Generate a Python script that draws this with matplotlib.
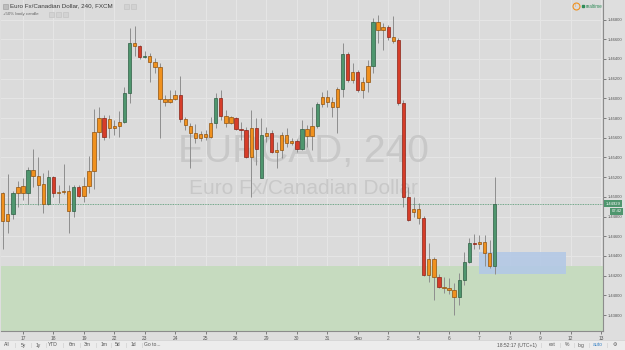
import matplotlib
matplotlib.use("Agg")
import matplotlib.pyplot as plt
import matplotlib.transforms as mtransforms
from matplotlib.patches import Rectangle
from matplotlib.lines import Line2D

plt.rcParams['font.family'] = ['Liberation Sans', 'DejaVu Sans']

# EUR/CAD 4h candles (oldest first)
opens = [1.45039, 1.44755, 1.44826, 1.45039, 1.45110, 1.45039, 1.45273, 1.45212, 1.45130, 1.44927,
         1.45201, 1.45039, 1.45049, 1.45059, 1.44856, 1.45100, 1.45009, 1.45110, 1.45262, 1.45658,
         1.45800, 1.45790, 1.45699, 1.45719, 1.45760, 1.46054, 1.46562, 1.46531, 1.46419, 1.46430,
         1.46369, 1.46318, 1.45993, 1.45963, 1.45993, 1.46034, 1.45790, 1.45719, 1.45648, 1.45597,
         1.45638, 1.45607, 1.45749, 1.46003, 1.45821, 1.45749, 1.45800, 1.45689, 1.45679, 1.45404,
         1.45699, 1.45191, 1.45618, 1.45648, 1.45455, 1.45476, 1.45628, 1.45546, 1.45567, 1.45486,
         1.45689, 1.45618, 1.45719, 1.45942, 1.46013, 1.45963, 1.45912, 1.46095, 1.46450, 1.46186,
         1.46267, 1.46085, 1.46166, 1.46328, 1.46775, 1.46694, 1.46724, 1.46622, 1.46592, 1.45952,
         1.44998, 1.44846, 1.44877, 1.44785, 1.44207, 1.44369, 1.44186, 1.44085, 1.44075, 1.44055,
         1.43983, 1.44156, 1.44339, 1.44531, 1.44521, 1.44542, 1.44430, 1.44298]
highs = [1.45049, 1.45232, 1.45059, 1.45161, 1.45191, 1.45303, 1.45486, 1.45404, 1.45242, 1.45273,
         1.45212, 1.45120, 1.45333, 1.45120, 1.45120, 1.45120, 1.45201, 1.45415, 1.45892, 1.45912,
         1.45831, 1.45831, 1.45780, 1.45871, 1.46115, 1.46714, 1.46734, 1.46541, 1.46480, 1.46460,
         1.46409, 1.46359, 1.46034, 1.46085, 1.46085, 1.46227, 1.45810, 1.45749, 1.45739, 1.45668,
         1.45679, 1.45810, 1.46054, 1.46085, 1.45882, 1.45821, 1.45810, 1.45760, 1.45709, 1.45882,
         1.45800, 1.45800, 1.45709, 1.45679, 1.45557, 1.45658, 1.45699, 1.45597, 1.45587, 1.45780,
         1.45729, 1.45912, 1.45963, 1.46064, 1.46085, 1.46013, 1.46115, 1.46562, 1.46470, 1.46359,
         1.46288, 1.46216, 1.46389, 1.46815, 1.46846, 1.46765, 1.46744, 1.46836, 1.46612, 1.45983,
         1.45100, 1.44998, 1.44938, 1.44806, 1.44531, 1.44389, 1.44217, 1.44186, 1.44176, 1.44125,
         1.44227, 1.44440, 1.44582, 1.44623, 1.44613, 1.44613, 1.44562, 1.45201]
lows = [1.44471, 1.44633, 1.44775, 1.44897, 1.44968, 1.44927, 1.45100, 1.44917, 1.44836, 1.44917,
        1.44998, 1.44938, 1.45029, 1.44633, 1.44796, 1.44998, 1.44948, 1.45039, 1.45080, 1.45374,
        1.45577, 1.45597, 1.45628, 1.45607, 1.45749, 1.45952, 1.46430, 1.46399, 1.46409, 1.46166,
        1.46257, 1.45597, 1.45922, 1.45952, 1.45983, 1.45760, 1.45679, 1.45293, 1.45546, 1.45567,
        1.45577, 1.45597, 1.45699, 1.45780, 1.45709, 1.45739, 1.45679, 1.45577, 1.45394, 1.44998,
        1.45323, 1.45191, 1.45557, 1.45445, 1.45293, 1.45394, 1.45506, 1.45526, 1.45455, 1.45476,
        1.45506, 1.45476, 1.45699, 1.45912, 1.45912, 1.45810, 1.45648, 1.46013, 1.46166, 1.46155,
        1.46064, 1.46003, 1.46064, 1.46257, 1.46562, 1.46491, 1.46592, 1.46562, 1.45932, 1.44897,
        1.44755, 1.44796, 1.44724, 1.44197, 1.44136, 1.43953, 1.44075, 1.44024, 1.44014, 1.43801,
        1.43902, 1.44105, 1.44329, 1.44471, 1.44471, 1.44298, 1.44278, 1.44217]
closes = [1.44755, 1.44826, 1.45039, 1.45100, 1.45039, 1.45273, 1.45212, 1.45120, 1.44927, 1.45201,
          1.45039, 1.45049, 1.45059, 1.44856, 1.45100, 1.45009, 1.45110, 1.45262, 1.45658, 1.45800,
          1.45607, 1.45699, 1.45719, 1.45760, 1.46054, 1.46562, 1.46531, 1.46419, 1.46430, 1.46369,
          1.46318, 1.45993, 1.45963, 1.45993, 1.46034, 1.45790, 1.45729, 1.45648, 1.45597, 1.45638,
          1.45607, 1.45749, 1.46003, 1.45821, 1.45749, 1.45810, 1.45689, 1.45679, 1.45404, 1.45699,
          1.45486, 1.45628, 1.45648, 1.45455, 1.45476, 1.45628, 1.45546, 1.45567, 1.45486, 1.45689,
          1.45618, 1.45719, 1.45942, 1.46013, 1.45963, 1.45912, 1.46095, 1.46450, 1.46186, 1.46267,
          1.46085, 1.46166, 1.46328, 1.46775, 1.46694, 1.46724, 1.46622, 1.46582, 1.45952, 1.44998,
          1.44765, 1.44877, 1.44785, 1.44207, 1.44369, 1.44186, 1.44085, 1.44075, 1.44055, 1.43983,
          1.44156, 1.44339, 1.44531, 1.44521, 1.44542, 1.44430, 1.44298, 1.44929]
# +50% body candle: g = big bull body, r = big bear body, o = small body
kinds = list("oogoogooog" "rooogroooo" "roooggorgo" "oooooroooo" "oogroorrro"
             "rgoroooorg" "oogoooogro" "roogoororr" "rooroorooo" "gggrooog")

day_labels = ['17', '18', '19', '22', '23', '24', '25', '26', '29', '30',
              '31', 'Sep', '2', '5', '6', '7', '8', '9', '12', '13']
price_ticks = [1.438, 1.440, 1.442, 1.444, 1.446, 1.448, 1.450, 1.452,
               1.454, 1.456, 1.458, 1.460, 1.462, 1.464, 1.466, 1.468]

last_price = 1.44929
zone_top = 1.4430
box_left, box_right = 94, 111
box_low, box_high = 1.44217, 1.44440

face = {'g': '#4f966e', 'r': '#d63d29', 'o': '#f0911e'}
edge = {'g': '#2f5e44', 'r': '#8a2418', 'o': '#8f5210'}

fig = plt.figure(figsize=(6.25, 3.5), dpi=100)
fig.patch.set_facecolor('#dedede')
ax = fig.add_axes([0.0016, 0.0543, 0.963, 0.9457])
ax.set_facecolor('#dbdbdb')
ax.set_axisbelow(True)

idx = list(range(len(opens)))
ax.set_xlim(-0.34, 118.33)
ax.set_ylim(1.43638, 1.46998)

# zones
ax.axhspan(ax.get_ylim()[0], zone_top, color='#c6dbbf', zorder=0.6, lw=0)
ax.add_patch(Rectangle((box_left, box_low), box_right - box_left, box_high - box_low,
                       facecolor='#b3c9e6', edgecolor='none', alpha=0.9, zorder=0.7))

# watermark
ax.text(0.502, 0.541, 'EURCAD, 240', transform=ax.transAxes, fontsize=28,
        color='#c8c8c8', ha='center', va='center', zorder=0.8)
ax.text(0.502, 0.432, 'Euro Fx/Canadian Dollar', transform=ax.transAxes, fontsize=15,
        color='#c8c8c8', ha='center', va='center', zorder=0.8)

# candles
ax.vlines(idx, lows, highs, color='#8e8e8e', lw=0.7, zorder=2)
bottoms = [min(o, c) for o, c in zip(opens, closes)]
heights = [max(abs(c - o), 0.00003) for o, c in zip(opens, closes)]
ax.bar(idx, heights, bottom=bottoms, width=0.66,
       color=[face[k] for k in kinds], edgecolor=[edge[k] for k in kinds],
       linewidth=0.5, zorder=3)

# last price line and labels
ax.axhline(last_price, color='#4f966e', ls=(0, (1, 1)), lw=0.6, zorder=2.5)
blend = mtransforms.blended_transform_factory(ax.transAxes, ax.transData)
ax.text(1.004, last_price, f'{last_price:.5f}', transform=blend, fontsize=3,
        color='white', ha='left', va='center',
        bbox=dict(boxstyle='square,pad=0.35', fc='#4f966e', ec='none'))
ax.annotate('07:42', xy=(1.0, last_price), xycoords=blend, xytext=(6.5, -5.5),
            textcoords='offset points', fontsize=3, color='white', ha='left', va='center',
            bbox=dict(boxstyle='square,pad=0.35', fc='#4f966e', ec='none'))

# axes
ax.set_xticks([4 + 6 * k for k in range(len(day_labels))])
ax.set_xticklabels(day_labels)
ax.set_yticks(price_ticks)
ax.set_yticklabels([f'{p:.5f}' for p in price_ticks])
ax.yaxis.tick_right()
ax.tick_params(axis='both', colors='#555555', length=2, width=0.5, pad=1.5)
ax.tick_params(axis='y', labelsize=3)
ax.tick_params(axis='x', labelsize=3.5)
ax.grid(True, color='#e6e6e6', lw=0.7)
for s in ['top', 'left']:
    ax.spines[s].set_visible(False)
for s in ['right', 'bottom']:
    ax.spines[s].set_color('#8c8c8c')
    ax.spines[s].set_linewidth(0.8)

# header
fig.add_artist(Rectangle((3 / 625, 1 - 9 / 350), 5 / 625, 5 / 350, transform=fig.transFigure,
                         fc='#bdbdbd', ec='#9a9a9a', lw=0.4))
fig.text(10 / 625, 1 - 6 / 350, 'Euro Fx/Canadian Dollar, 240, FXCM', fontsize=4.5,
         color='#3c3c3c', va='center')
fig.text(3 / 625, 1 - 14.5 / 350, '+50% body candle', fontsize=3.2, color='#666666', va='center')
for x0, y0 in [(124, 8.5), (131, 8.5), (49, 16.5), (56, 16.5), (63, 16.5)]:
    fig.add_artist(Rectangle((x0 / 625, 1 - y0 / 350), 5 / 625, 5 / 350, transform=fig.transFigure,
                             fc='#d2d2d2', ec='#c0c0c0', lw=0.4))
fig.add_artist(Line2D([576 / 625], [1 - 6 / 350], marker='o', markersize=5, mfc='none',
                      mec='#f0911e', mew=0.8, transform=fig.transFigure))
fig.text(576 / 625, 1 - 6 / 350, 'II', fontsize=2.5, color='#f0911e', ha='center', va='center')
fig.add_artist(Line2D([583 / 625], [1 - 6 / 350], marker='s', markersize=1.8, color='#2e8b57',
                      transform=fig.transFigure))
fig.text(586 / 625, 1 - 6 / 350, 'realtime', fontsize=3.3, color='#2e8b57', va='center')

# bottom toolbar
fig.add_artist(Rectangle((0, 0), 1, 10 / 350, transform=fig.transFigure,
                         fc='#ececec', ec='none'))
fig.add_artist(Line2D([0, 1], [10 / 350, 10 / 350], color='#cfcfcf', lw=0.5,
                      transform=fig.transFigure))
ty = 5 / 350
for lbl, x in [('All', 7), ('5y', 23), ('1y', 38), ('YTD', 53), ('6m', 72), ('3m', 87),
               ('1m', 104), ('5d', 118), ('1d', 133), ('Go to...', 152)]:
    fig.text(x / 625, ty, lbl, fontsize=3.6, color='#555555', ha='center', va='center')
for x in [15, 31, 46, 63, 80, 96, 111, 126, 142]:
    fig.text(x / 625, ty, '|', fontsize=3.6, color='#c4c4c4', ha='center', va='center')
for lbl, x, c in [('18:52:17 (UTC+1)', 517, '#555555'), ('ext', 552, '#555555'),
                  ('%', 567, '#555555'), ('log', 581, '#555555'), ('auto', 598, '#3d85c6'),
                  ('\u2699', 615, '#555555')]:
    fig.text(x / 625, ty, lbl, fontsize=3.6, color=c, ha='center', va='center')
for x in [541, 560, 574, 589, 607]:
    fig.text(x / 625, ty, '|', fontsize=3.6, color='#c4c4c4', ha='center', va='center')

fig.savefig('out.png', dpi=100, facecolor=fig.get_facecolor())
